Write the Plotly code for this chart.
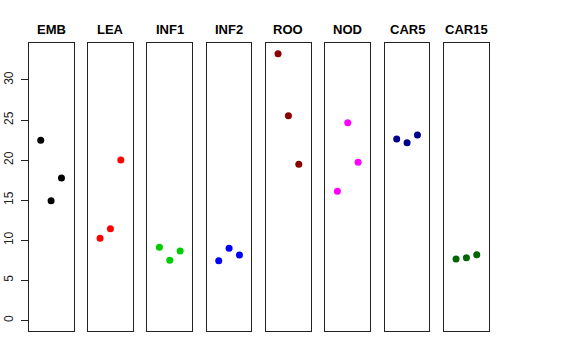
import plotly.graph_objects as go

categories = ["EMB", "LEA", "INF1", "INF2", "ROO", "NOD", "CAR5", "CAR15"]
colors = ["#000000", "#FF0000", "#00CD00", "#0000FF", "#8B0000", "#FF00FF", "#00008B", "#006400"]
replicates = [1, 2, 3]
values = {
    "EMB": [22.47, 14.93, 17.77],
    "LEA": [10.23, 11.44, 20.01],
    "INF1": [9.11, 7.49, 8.65],
    "INF2": [7.44, 8.99, 8.15],
    "ROO": [33.28, 25.54, 19.47],
    "NOD": [16.10, 24.67, 19.72],
    "CAR5": [22.63, 22.17, 23.13],
    "CAR15": [7.65, 7.82, 8.19],
}
y_ticks = [0, 5, 10, 15, 20, 25, 30]

W, H = 576, 360
fig = go.Figure()
left0, pw, step = 28.7, 44.8, 59.33
ymax = max(max(v) for v in values.values())
yr = [-0.04 * ymax, 1.04 * ymax]
for i, cat in enumerate(categories):
    n = "" if i == 0 else str(i + 1)
    fig.add_trace(go.Scatter(x=replicates, y=values[cat], mode="markers",
                             marker=dict(color=colors[i], size=7),
                             xaxis="x" + n, yaxis="y" + n, showlegend=False,
                             hoverinfo="y"))
    l = left0 + i * step
    fig.layout["xaxis" + n] = dict(domain=[l / W, (l + pw) / W], range=[-0.16, 4.16],
                                   showgrid=False, zeroline=False, showticklabels=False,
                                   ticks="", showline=True, mirror=True, automargin=False,
                                   linecolor="#222", linewidth=1, anchor="y" + n)
    ya = dict(domain=[1 - 331 / H, 1 - 43 / H], range=yr, showgrid=False, zeroline=False,
              showline=True, mirror=True, linecolor="#222", linewidth=1, anchor="x" + n,
              automargin=False)
    if i == 0:
        ya.update(tickvals=y_ticks, ticks="outside", ticklen=7, tickcolor="#222",
                  tickangle=-90, ticklabelstandoff=3,
                  tickfont=dict(size=12, color="#222", family="Liberation Sans, Arial"))
    else:
        ya.update(showticklabels=False, ticks="")
    fig.layout["yaxis" + n] = ya
    fig.add_annotation(text="<b>" + cat + "</b>", x=(l + pw / 2) / W, y=1 - 29 / H,
                       xref="paper", yref="paper", showarrow=False,
                       font=dict(size=13, color="black", family="Liberation Sans, Arial"),
                       xanchor="center", yanchor="middle")

fig.update_layout(width=W, height=H, margin=dict(l=0, r=0, t=0, b=0),
                  plot_bgcolor="white", paper_bgcolor="white")
fig.write_html("out.html", config={"displayModeBar": False},
               post_script="document.body.style.margin='0';")
